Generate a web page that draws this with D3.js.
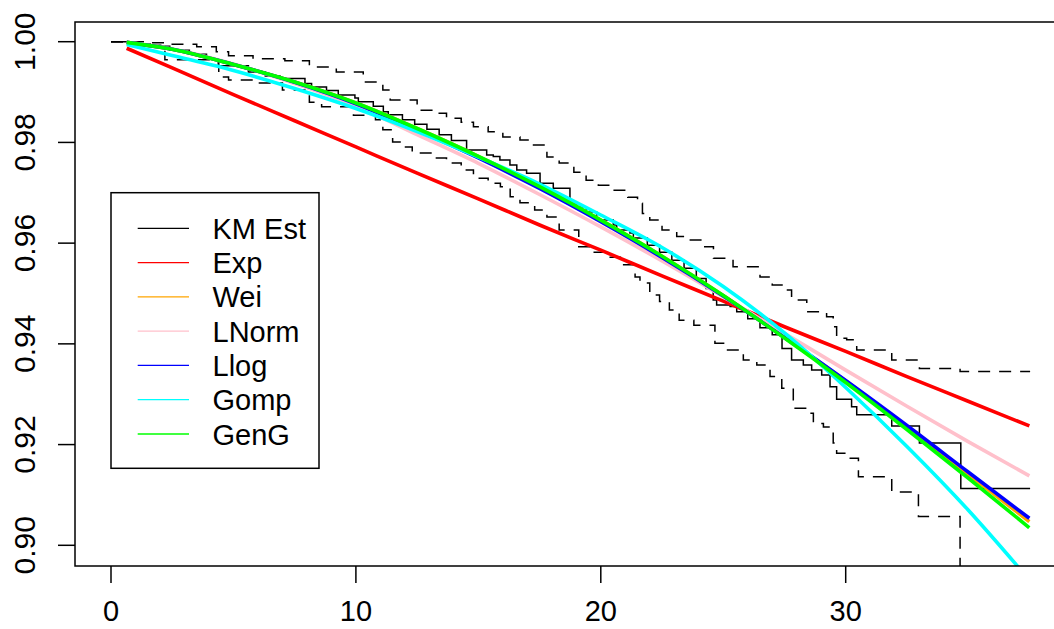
<!DOCTYPE html>
<html>
<head>
<meta charset="utf-8">
<script src="https://cdn.jsdelivr.net/npm/d3@7"></script>
<style>
  html, body { margin: 0; padding: 0; background: #fff; }
  svg { display: block; font-family: "Liberation Sans", Arial, sans-serif; }
</style>
</head>
<body>
<svg id="chart" width="1054" height="629"></svg>
<script>
// ---------------- data ----------------
const kmTime = [0, 0.70, 1.60, 2.40, 3.20, 3.90, 4.38, 5.61, 6.30, 6.90, 7.92, 8.19, 8.80, 9.28, 9.96, 10.10, 10.71, 11.12, 11.32, 11.90, 12.40, 12.90, 13.40, 13.90, 14.52, 15.34, 15.61, 15.88, 16.29, 16.57, 16.97, 17.52, 18.06, 18.74, 19.02, 19.40, 19.83, 20.51, 20.65, 21.19, 21.33, 21.90, 22.40, 22.90, 23.40, 23.90, 24.30, 24.59, 24.73, 25.28, 25.55, 26.00, 26.50, 27.00, 27.40, 27.79, 28.27, 28.61, 29.02, 29.36, 29.63, 30.24, 30.45, 31.88, 33.01, 34.70, 37.53];
const kmSurv = [1, 0.9996, 0.9991, 0.9983, 0.9975, 0.9966, 0.9952, 0.9940, 0.9932, 0.9927, 0.9917, 0.9910, 0.9903, 0.9894, 0.9888, 0.9881, 0.9872, 0.9861, 0.9855, 0.9845, 0.9836, 0.9826, 0.9815, 0.9804, 0.9785, 0.9775, 0.9772, 0.9765, 0.9755, 0.9745, 0.9739, 0.9719, 0.9709, 0.9679, 0.9672, 0.9662, 0.9646, 0.9636, 0.9626, 0.9620, 0.9610, 0.9596, 0.9582, 0.9566, 0.9550, 0.9530, 0.9510, 0.9487, 0.9477, 0.9474, 0.9464, 0.9450, 0.9432, 0.9418, 0.9391, 0.9368, 0.9358, 0.9348, 0.9338, 0.9315, 0.9290, 0.9275, 0.9259, 0.9237, 0.9203, 0.9113, 0.9113];

const ciUpTime = [0, 1.45, 2.3, 3.5, 4.3, 4.8, 5.8, 7.1, 8.1, 9.2, 10.3, 11.1, 11.4, 12.5, 13.1, 13.7, 14.3, 14.8, 15.4, 16.0, 16.7, 17.2, 17.8, 18.3, 18.9, 19.4, 19.9, 20.5, 21.1, 21.5, 21.7, 22.0, 22.5, 23.1, 23.6, 24.2, 24.6, 25.4, 26.5, 27.0, 27.45, 27.79, 28.41, 29.22, 29.49, 29.63, 30.04, 30.45, 31.68, 31.88, 33.01, 34.67, 37.53];
const ciUp = [1, 0.9998, 0.9995, 0.9990, 0.9980, 0.9972, 0.9966, 0.9962, 0.9950, 0.9940, 0.9920, 0.9904, 0.9884, 0.9864, 0.9858, 0.9848, 0.9840, 0.9831, 0.9821, 0.9811, 0.9805, 0.9795, 0.9771, 0.9759, 0.9741, 0.9725, 0.9715, 0.9705, 0.9691, 0.9679, 0.9659, 0.9646, 0.9626, 0.9613, 0.9606, 0.9593, 0.9570, 0.9553, 0.9533, 0.9517, 0.9507, 0.9487, 0.9464, 0.9454, 0.9434, 0.9411, 0.9408, 0.9388, 0.9384, 0.9368, 0.9351, 0.9345, 0.9345];

const ciLoTime = [0, 1.2, 2.2, 4.4, 4.8, 5.8, 7.0, 8.1, 8.6, 9.9, 10.8, 11.1, 11.5, 11.9, 12.3, 13.1, 13.7, 14.3, 14.8, 15.4, 15.9, 16.3, 16.7, 17.3, 17.8, 18.3, 19.1, 19.7, 20.3, 20.8, 21.4, 21.6, 22.0, 22.4, 22.8, 23.2, 23.8, 24.66, 25.14, 25.82, 26.37, 26.91, 27.39, 27.86, 28.41, 28.68, 29.09, 29.49, 29.63, 30.11, 30.52, 31.88, 32.97, 34.67, 37.53];
const ciLo = [1, 0.9993, 0.9964, 0.9930, 0.9924, 0.9918, 0.9904, 0.9880, 0.9871, 0.9854, 0.9845, 0.9825, 0.9801, 0.9791, 0.9779, 0.9769, 0.9759, 0.9745, 0.9729, 0.9719, 0.9712, 0.9692, 0.9680, 0.9666, 0.9652, 0.9626, 0.9593, 0.9582, 0.9572, 0.9557, 0.9533, 0.9521, 0.9497, 0.9484, 0.9467, 0.9447, 0.9437, 0.9401, 0.9388, 0.9368, 0.9358, 0.9335, 0.9312, 0.9272, 0.9262, 0.9242, 0.9235, 0.9203, 0.9183, 0.9173, 0.9136, 0.9106, 0.9057, 0.8800, 0.8800];

const fitTime   = [0.64, 2.5, 5, 7.5, 10, 12.5, 15, 17.5, 20, 22.5, 25, 27.5, 30, 32.5, 35, 37.5];
const survExp   = [0.9987, 0.9948, 0.9895, 0.9843, 0.9791, 0.9739, 0.9688, 0.9636, 0.9586, 0.9535, 0.9485, 0.9434, 0.9385, 0.9335, 0.9286, 0.9237];
const survWei   = [0.99986, 0.99849, 0.99547, 0.99200, 0.98783, 0.98276, 0.97724, 0.97121, 0.96457, 0.95741, 0.94960, 0.94126, 0.93262, 0.92349, 0.91416, 0.90469];
const survLNorm = [0.99988, 0.99855, 0.99557, 0.99170, 0.98723, 0.98155, 0.97585, 0.96966, 0.96322, 0.95647, 0.94936, 0.94208, 0.93479, 0.92762, 0.92059, 0.91378];
const survLlog  = [0.99986, 0.99849, 0.99547, 0.99194, 0.98767, 0.98251, 0.97691, 0.97085, 0.96424, 0.95715, 0.94950, 0.94126, 0.93272, 0.92379, 0.91455, 0.90536];
const survGomp  = [0.99944, 0.99726, 0.99428, 0.99071, 0.98674, 0.98217, 0.97710, 0.97174, 0.96559, 0.95913, 0.95139, 0.94216, 0.93133, 0.91962, 0.90701, 0.89311];
const survGenG  = [0.99986, 0.99849, 0.99547, 0.99200, 0.98783, 0.98276, 0.97724, 0.97121, 0.96457, 0.95741, 0.94960, 0.94116, 0.93233, 0.92299, 0.91336, 0.90349];

const legendLabels = ["KM Est", "Exp", "Wei", "LNorm", "Llog", "Gomp", "GenG"];
const legendColors = ["#000000", "#FF0000", "#FFA500", "#FFC0CB", "#0000FF", "#00FFFF", "#00FF00"];
const xTicks = [0, 10, 20, 30];
const yTicks = [0.90, 0.92, 0.94, 0.96, 0.98, 1.00];

// ---------------- layout ----------------
const svg = d3.select("#chart");
const x = d3.scaleLinear().domain([0, 30]).range([111, 845.7]);
const y = d3.scaleLinear().domain([0.90, 1.00]).range([545.3, 41.7]);
const plotL = 75, plotT = 22, plotB = 566, plotR = 1067;

svg.append("defs").append("clipPath").attr("id", "clip")
  .append("rect").attr("x", plotL).attr("y", plotT)
  .attr("width", plotR - plotL).attr("height", plotB - plotT);

const plot = svg.append("g").attr("clip-path", "url(#clip)");

const stepLine = d3.line().x(d => x(d[0])).y(d => y(d[1])).curve(d3.curveStepAfter);
const smoothLine = d3.line().x(d => x(d[0])).y(d => y(d[1])).curve(d3.curveMonotoneX);

// KM estimate + CI
plot.append("path").datum(d3.zip(kmTime, kmSurv)).attr("d", stepLine)
  .attr("fill", "none").attr("stroke", "#000").attr("stroke-width", 1.5);
[[ciUpTime, ciUp], [ciLoTime, ciLo]].forEach(([t, s]) => {
  plot.append("path").datum(d3.zip(t, s)).attr("d", stepLine)
    .attr("fill", "none").attr("stroke", "#000").attr("stroke-width", 1.5)
    .attr("stroke-dasharray", "12,9");
});

// fitted curves
const fits = [survExp, survWei, survLNorm, survLlog, survGomp, survGenG];
fits.forEach((s, i) => {
  plot.append("path").datum(d3.zip(fitTime, s)).attr("d", smoothLine)
    .attr("fill", "none").attr("stroke", legendColors[i + 1])
    .attr("stroke-width", 3.6).attr("stroke-linejoin", "round");
});

// box
svg.append("rect").attr("x", plotL).attr("y", plotT)
  .attr("width", plotR - plotL).attr("height", plotB - plotT)
  .attr("fill", "none").attr("stroke", "#000").attr("stroke-width", 1.5);

// y axis
const yAxis = svg.append("g");
yAxis.selectAll("line").data(yTicks).join("line")
  .attr("x1", 58).attr("x2", plotL).attr("y1", d => y(d)).attr("y2", d => y(d))
  .attr("stroke", "#000").attr("stroke-width", 1.5);
yAxis.selectAll("text").data(yTicks).join("text")
  .attr("transform", d => `translate(35,${y(d)}) rotate(-90)`)
  .attr("text-anchor", "middle").attr("font-size", 30)
  .text(d => d.toFixed(2));

// x axis
const xAxis = svg.append("g");
xAxis.selectAll("line").data(xTicks).join("line")
  .attr("x1", d => x(d)).attr("x2", d => x(d)).attr("y1", plotB).attr("y2", 583)
  .attr("stroke", "#000").attr("stroke-width", 1.5);
xAxis.selectAll("text").data(xTicks).join("text")
  .attr("x", d => x(d)).attr("y", 621)
  .attr("text-anchor", "middle").attr("font-size", 29)
  .text(d => d);

// legend
const lg = svg.append("g");
lg.append("rect").attr("x", 111).attr("y", 192.7).attr("width", 208).attr("height", 275.6)
  .attr("fill", "#fff").attr("stroke", "#000").attr("stroke-width", 1.5);
const rowY = d3.scaleLinear().domain([0, 6]).range([228.3, 434]);
legendLabels.forEach((lab, i) => {
  lg.append("line").attr("x1", 137.7).attr("x2", 189).attr("y1", rowY(i)).attr("y2", rowY(i))
    .attr("stroke", legendColors[i]).attr("stroke-width", 1.3);
  lg.append("text").attr("x", 212.5).attr("y", rowY(i) + 10.5)
    .attr("font-size", 29).text(lab);
});
</script>
</body>
</html>
